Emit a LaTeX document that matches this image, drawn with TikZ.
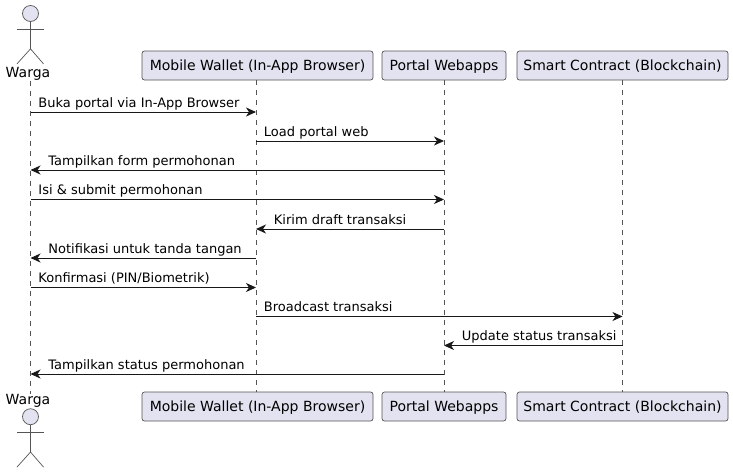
\documentclass[tikz,border=0pt]{standalone}
\usepackage{fontspec}
\setmainfont{DejaVu Sans}
\usepackage{xcolor}
\usetikzlibrary{arrows.meta}
\definecolor{boxfill}{HTML}{E2E2F0}
\definecolor{boxline}{HTML}{181818}
\definecolor{thinline}{HTML}{555555}

\begin{document}
\begin{tikzpicture}[x=1pt, y=-1pt,
        main/.style = {draw=thinline, fill=boxfill, rectangle, rounded corners=2.5pt, line width=0.7pt, minimum height=29pt, inner sep=0pt, text height=13pt, text depth=3pt, font=\fontsize{14}{16}\selectfont},
        actorname/.style = {anchor=base, inner sep=0pt, font=\fontsize{14}{16}\selectfont},
        person/.style = {draw=thinline, line width=0.7pt},
        head/.style = {person, fill=boxfill, circle, minimum size=16pt, inner sep=0pt},
        life/.style = {draw=thinline, line width=0.7pt, dash pattern=on 5pt off 5pt},
        msg/.style = {-{Stealth[length=10pt, width=9pt, inset=3pt]}, line width=0.9pt, draw=boxline},
        txt/.style = {anchor=base west, inner sep=0pt, yshift=5pt, font=\fontsize{13}{15}\selectfont}]
        \useasboundingbox (0, 0) rectangle (733, 472);

        % participants, top row
        \node[head] (head1) at (30.5, 13.5) {};
        \node[actorname] (warga) at (28, 77.7) {Warga};
        \node[main, minimum width=231pt] (wallet) at (257.5, 65.5) {Mobile Wallet (In-App Browser)};
        \node[main, minimum width=124pt] (portal) at (444, 65.5) {Portal Webapps};
        \node[main, minimum width=211pt] (contract) at (622.5, 65.5) {Smart Contract (Blockchain)};

        % participants, bottom row
        \node[head] (head2) at (30.5, 416.7) {};
        \node[actorname] (warga2) at (28, 404.3) {Warga};
        \node[main, minimum width=231pt] (wallet2) at (257.5, 406.5) {Mobile Wallet (In-App Browser)};
        \node[main, minimum width=124pt] (portal2) at (444, 406.5) {Portal Webapps};
        \node[main, minimum width=211pt] (contract2) at (622.5, 406.5) {Smart Contract (Blockchain)};

        % lifelines
        \draw[life] (head1 |- warga.south) -- (head1 |- warga2.north);
        \draw[life] ([xshift=-1.5pt]wallet.south) -- ([xshift=-1.5pt]wallet2.north);
        \draw[life] (portal) -- (portal2);
        \draw[life] (contract) -- (contract2);

        % stick figures
        \foreach \h in {1, 2} {
            \draw[person] (head\h.south) -- ++(0, 27) coordinate (hip\h) (head\h.south) ++(-13.5, 7.5) -- ++(26.5, 0);
            \draw[person] (hip\h) -- ++(-13.5, 15) (hip\h) -- ++(13, 15);
        }

        % rows of the messages
        \coordinate (r1) at (0, 112);
        \coordinate (r2) at (0, 141);
        \coordinate (r3) at (0, 170);
        \coordinate (r4) at (0, 199.5);
        \coordinate (r5) at (0, 229);
        \coordinate (r6) at (0, 258);
        \coordinate (r7) at (0, 287.5);
        \coordinate (r8) at (0, 316.5);
        \coordinate (r9) at (0, 345.5);
        \coordinate (r10) at (0, 374);
        \coordinate (wl) at (256, 0);

        \draw[msg] (head1 |- r1) -- node[txt, pos=0, xshift=7.5pt]{Buka portal via In-App Browser} (wl |- r1);
        \draw[msg] (wl |- r2) -- node[txt, pos=0, xshift=7.5pt]{Load portal web} (portal |- r2);
        \draw[msg] (portal |- r3) -- node[txt, pos=1, xshift=17.5pt]{Tampilkan form permohonan} (head1 |- r3);
        \draw[msg] (head1 |- r4) -- node[txt, pos=0, xshift=7.5pt]{Isi \& submit permohonan} (portal |- r4);
        \draw[msg] (portal |- r5) -- node[txt, pos=1, xshift=17.5pt]{Kirim draft transaksi} (wl |- r5);
        \draw[msg] (wl |- r6) -- node[txt, pos=1, xshift=17.5pt]{Notifikasi untuk tanda tangan} (head1 |- r6);
        \draw[msg] (head1 |- r7) -- node[txt, pos=0, xshift=7.5pt]{Konfirmasi (PIN/Biometrik)} (wl |- r7);
        \draw[msg] (wl |- r8) -- node[txt, pos=0, xshift=7.5pt]{Broadcast transaksi} (contract |- r8);
        \draw[msg] (contract |- r9) -- node[txt, pos=1, xshift=17.5pt]{Update status transaksi} (portal |- r9);
        \draw[msg] (portal |- r10) -- node[txt, pos=1, xshift=17.5pt]{Tampilkan status permohonan} (head1 |- r10);
    \end{tikzpicture}
\end{document}
